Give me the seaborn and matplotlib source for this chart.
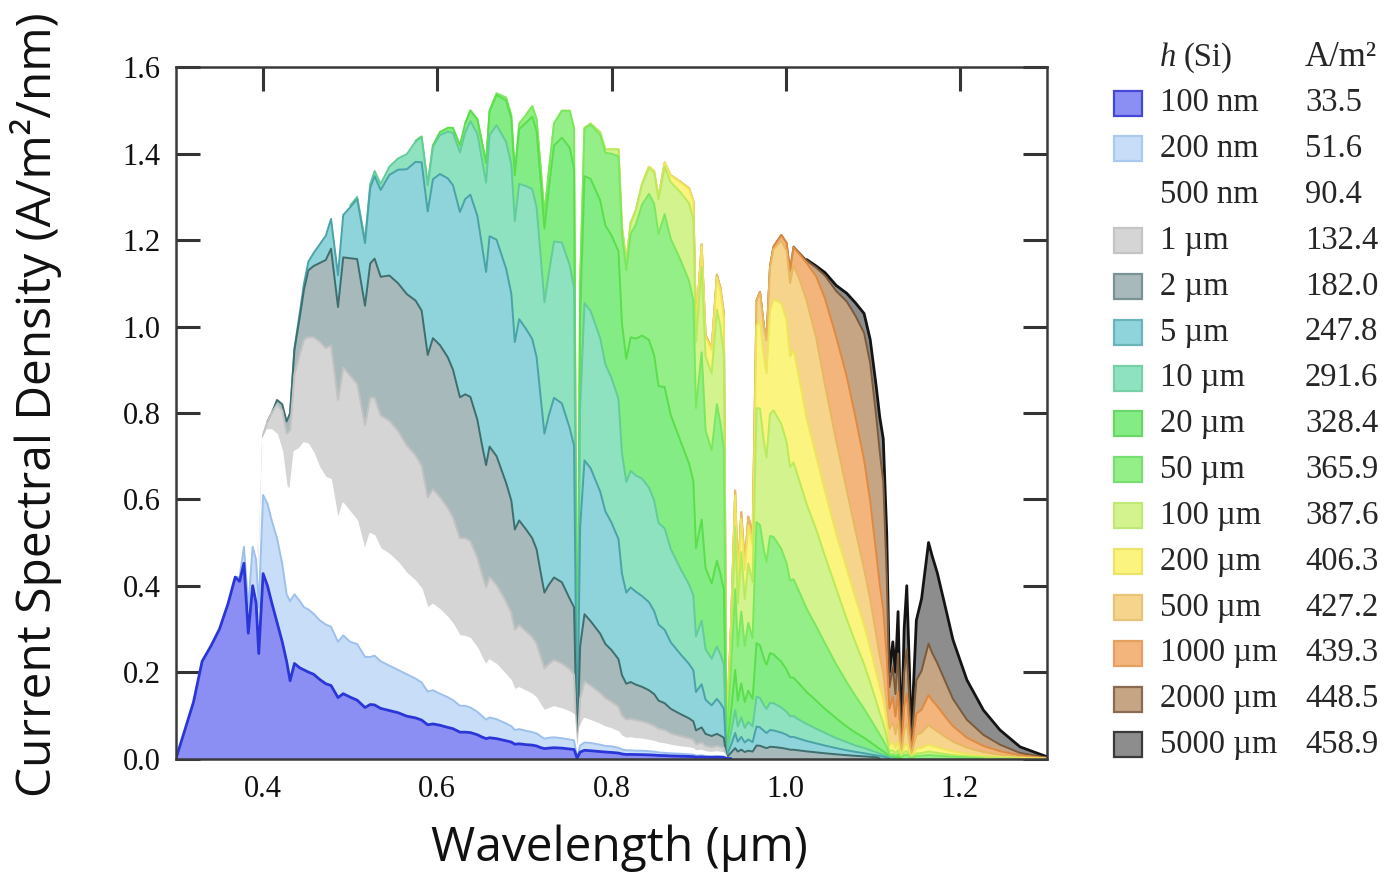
import matplotlib
matplotlib.use("Agg")
import matplotlib.pyplot as plt
from matplotlib.patches import Rectangle
import seaborn as sns

# ---------------- data ----------------
WAVELENGTH_UM = [
    0.300, 0.310, 0.320, 0.330, 0.340, 0.350, 0.360, 0.368, 0.373, 0.378,
    0.383, 0.388, 0.392, 0.395, 0.400, 0.405, 0.410, 0.416, 0.422, 0.427,
    0.431, 0.436, 0.442, 0.447, 0.452, 0.458, 0.465, 0.472, 0.478, 0.486,
    0.492, 0.500, 0.508, 0.517, 0.523, 0.528, 0.535, 0.545, 0.555, 0.565,
    0.575, 0.582, 0.589, 0.595, 0.603, 0.612, 0.618, 0.626, 0.632, 0.638,
    0.646, 0.651, 0.656, 0.660, 0.668, 0.679, 0.685, 0.689, 0.694, 0.702,
    0.709, 0.714, 0.719, 0.723, 0.728, 0.734, 0.743, 0.752, 0.757, 0.7605,
    0.764, 0.769, 0.776, 0.787, 0.793, 0.800, 0.808, 0.812, 0.817, 0.822,
    0.828, 0.835, 0.843, 0.849, 0.854, 0.861, 0.868, 0.879, 0.889, 0.894,
    0.897, 0.9035, 0.908, 0.915, 0.921, 0.925, 0.929, 0.932, 0.937, 0.942,
    0.945, 0.949, 0.953, 0.957, 0.962, 0.9665, 0.9705, 0.975, 0.978, 0.982,
    0.986, 0.995, 1.001, 1.005, 1.009, 1.016, 1.024, 1.035, 1.045, 1.058,
    1.070, 1.080, 1.090, 1.097, 1.104, 1.108, 1.112, 1.116, 1.119, 1.123,
    1.126, 1.129, 1.1325, 1.136, 1.139, 1.142, 1.144, 1.150, 1.156, 1.164,
    1.168, 1.174, 1.185, 1.192, 1.208, 1.227, 1.246, 1.269, 1.300,
]

THICKNESS_LABELS = ["100 nm", "200 nm", "500 nm", "1 µm", "2 µm", "5 µm", "10 µm",
                    "20 µm", "50 µm", "100 µm", "200 µm", "500 µm", "1000 µm",
                    "2000 µm", "5000 µm"]
CURRENT_TOTALS = ["33.5", "51.6", "90.4", "132.4", "182.0", "247.8", "291.6", "328.4",
                  "365.9", "387.6", "406.3", "427.2", "439.3", "448.5", "458.9"]

# index into WAVELENGTH_UM where each series' values begin
SERIES_START_INDEX = [0, 7, 9, 12, 15, 20, 31, 40, 48, 59, 70, 76, 86, 105, 116]

J_100NM = [
    0.0, .065, .13, .225, .26, .30, .36, .42, .41, .452,
    .29, .40, .36, .243, .428, .40, .36, .315, .27, .225,
    .18, .22, .21, .205, .20, .195, .183, .173, .169, .141,
    .15, .142, .135, .118, .125, .124, .116, .111, .106, .098,
    .094, .089, .078, .080, .077, .072, .069, .061, .061, .060,
    .055, .050, .046, .048, .046, .041, .038, .033, .034, .032,
    .031, .029, .025, .023, .024, .025, .024, .022, .021, .001,
    .015, .019, .018, .016, .015, .014, .0126, .0105, .0093, .0095,
    .0092, .0089, .0084, .0079, .0071, .0067, .006, .0053, .0048, .0044,
    .0033, .0037, .0029, .0026, .0029, .0027, .0025, .0001, 0.0,
]
J_200NM = [
    .42, .42, .49,
    .35, .49, .46, .35, .61, .59, .55, .51, .45, .38,
    .364, .38, .365, .35, .345, .335, .32, .31, .305, .27,
    .285, .27, .265, .235, .235, .238, .225, .215, .205, .195,
    .185, .176, .155, .158, .150, .142, .135, .122, .122, .118,
    .108, .099, .090, .095, .091, .081, .075, .066, .068, .064,
    .061, .058, .051, .046, .048, .049, .047, .044, .042, .002,
    .030, .037, .036, .032, .029, .028, .025, .021, .019, .019,
    .018, .018, .017, .016, .014, .013, .012, .011, .0096, .0089,
    .0067, .0074, .0059, .0053, .0059, .0054, .0049, .0002, 0.0,
]
J_500NM = [
    .50,
    .36, .52, .50, .40, .74, .76, .76, .75, .71, .63,
    .62, .71, .717, .73, .727, .707, .672, .65, .645, .55,
    .59, .57, .55, .48, .52, .515, .485, .472, .453, .428,
    .41, .392, .347, .356, .344, .326, .311, .283, .282, .277,
    .255, .234, .215, .227, .217, .193, .179, .158, .163, .155,
    .148, .139, .122, .110, .114, .119, .114, .107, .101, .0035,
    .072, .092, .087, .078, .072, .068, .061, .051, .046, .047,
    .045, .044, .041, .039, .035, .033, .030, .026, .024, .022,
    .017, .018, .0145, .013, .0147, .0135, .012, .0006, 0.0,
]
J_1UM = [
    .50, .40, .75, .78, .80, .82, .805, .752,
    .76, .89, .934, .97, .975, .975, .965, .95, .956, .83,
    .905, .886, .867, .772, .835, .835, .794, .782, .758, .725,
    .702, .678, .605, .623, .605, .58, .558, .51, .51, .503,
    .465, .429, .397, .42, .402, .363, .337, .298, .309, .294,
    .281, .266, .234, .209, .219, .228, .22, .207, .194, .007,
    .139, .178, .169, .152, .14, .131, .12, .10, .09, .092,
    .089, .086, .081, .076, .069, .066, .058, .052, .047, .043,
    .033, .037, .029, .026, .029, .027, .025, .001, 0.0,
]
J_2UM = [
    .78, .80, .83, .82, .78,
    .80, .946, 1.02, 1.086, 1.13, 1.14, 1.147, 1.154, 1.18, 1.045,
    1.16, 1.158, 1.156, 1.048, 1.146, 1.157, 1.115, 1.118, 1.10, 1.075,
    1.06, 1.037, .934, .973, .957, .929, .90, .836, .843, .837,
    .784, .729, .679, .722, .70, .638, .597, .53, .551, .53,
    .51, .484, .427, .384, .402, .419, .408, .37, .35, .012,
    .26, .334, .318, .289, .265, .251, .23, .193, .173, .177,
    .171, .166, .158, .149, .134, .128, .115, .103, .093, .086,
    .065, .072, .057, .052, .057, .053, .048, .0022, .013, .024,
    .016, .0205, .015, .018, .016, .030, .0295, .026, .024, .027,
    .0267, .0245, .0224, .0204, .0203, .0186, .0165, .0142, .0121, .0097,
    .0077, .0062, .0049, .0039, .0029, 0.0,
]
J_5UM = [
    .80, .95, 1.03, 1.10, 1.15, 1.17, 1.19, 1.21, 1.249, 1.119,
    1.258, 1.276, 1.295, 1.193, 1.321, 1.348, 1.316, 1.351, 1.363, 1.364,
    1.381, 1.38, 1.266, 1.341, 1.353, 1.343, 1.327, 1.265, 1.295, 1.305,
    1.256, 1.191, 1.126, 1.209, 1.201, 1.134, 1.076, .964, 1.017, .994,
    .971, .929, .83, .752, .794, .835, .822, .765, .724, .025,
    .536, .69, .672, .618, .572, .546, .508, .428, .384, .396,
    .386, .376, .362, .341, .31, .298, .269, .242, .219, .204,
    .154, .172, .136, .123, .138, .128, .115, .0054, .030, .059,
    .039, .05, .037, .044, .038, .074, .072, .064, .059, .066,
    .065, .06, .055, .05, .05, .0455, .0405, .035, .03, .024,
    .019, .0154, .0122, .0096, .0072, .0056, .0044, .0026, 0.0,
]
J_10UM = [
    1.28, 1.30, 1.20, 1.33, 1.36, 1.33, 1.37, 1.389, 1.399,
    1.428, 1.438, 1.327, 1.416, 1.443, 1.451, 1.448, 1.403, 1.449, 1.475,
    1.446, 1.39, 1.333, 1.443, 1.466, 1.427, 1.375, 1.244, 1.33, 1.325,
    1.318, 1.276, 1.155, 1.056, 1.123, 1.197, 1.194, 1.142, 1.089, .037,
    .81, 1.054, 1.036, .973, .912, .881, .832, .707, .64, .666,
    .655, .648, .627, .597, .545, .533, .485, .44, .403, .377,
    .283, .319, .253, .231, .259, .241, .218, .010, .058, .112,
    .074, .095, .071, .085, .074, .143, .14, .123, .115, .129,
    .128, .118, .108, .098, .098, .089, .080, .069, .0595, .047,
    .038, .030, .0244, .0192, .0142, .0112, .0087, .0052, .0017, .0019, 0.0,
]
J_20UM = [
    1.43, 1.44, 1.33, 1.42, 1.45, 1.46, 1.46, 1.42, 1.47, 1.50,
    1.479, 1.429, 1.378, 1.498, 1.536, 1.523, 1.481, 1.35, 1.457, 1.472,
    1.486, 1.452, 1.329, 1.227, 1.319, 1.419, 1.437, 1.414, 1.365, .047,
    1.024, 1.348, 1.342, 1.292, 1.234, 1.211, 1.174, 1.007, .925, .975,
    .972, .979, .969, .933, .862, .86, .795, .736, .683, .642,
    .487, .553, .441, .405, .458, .428, .39, .018, .104, .205,
    .134, .174, .131, .157, .138, .267, .262, .231, .217, .244,
    .241, .224, .206, .188, .187, .172, .154, .134, .115, .093,
    .074, .060, .048, .038, .028, .022, .017, .0103, .0033, .0039,
    .0025, .0037, 0.0,
]
J_50UM = [
    1.47, 1.50,
    1.48, 1.43, 1.38, 1.50, 1.54, 1.53, 1.49, 1.36, 1.47, 1.49,
    1.51, 1.48, 1.36, 1.26, 1.36, 1.47, 1.499, 1.499, 1.458, .05,
    1.099, 1.458, 1.467, 1.444, 1.402, 1.40, 1.394, 1.213, 1.13, 1.214,
    1.236, 1.282, 1.307, 1.284, 1.214, 1.26, 1.203, 1.155, 1.106, 1.059,
    .811, .94, .76, .713, .82, .777, .717, .034, .197, .392,
    .259, .34, .26, .314, .279, .547, .54, .482, .455, .515,
    .513, .485, .452, .412, .415, .384, .347, .306, .267, .218,
    .177, .145, .115, .092, .069, .055, .042, .026, .0084, .0097,
    .0064, .0099, .0009, .0073, .0089, .0043, .0009, .0059, .0064, .0081,
    .0074, .0066, .005, .004, .0026, 0.0,
]
J_100UM = [
    1.49,
    1.51, 1.48, 1.36, 1.26, 1.36, 1.47, 1.50, 1.50, 1.46, .05,
    1.10, 1.46, 1.47, 1.45, 1.41, 1.41, 1.41, 1.23, 1.15, 1.239,
    1.269, 1.328, 1.367, 1.356, 1.294, 1.37, 1.334, 1.311, 1.285, 1.249,
    .964, 1.138, .931, .891, 1.039, 1.001, .934, .045, .264, .536,
    .358, .478, .369, .451, .408, .811, .81, .733, .697, .797,
    .806, .774, .733, .675, .685, .641, .589, .53, .469, .393,
    .323, .269, .218, .176, .132, .105, .082, .050, .0162, .0192,
    .0127, .0196, .0019, .0144, .0177, .0087, .0017, .0117, .0126, .0162,
    .0147, .0132, .0099, .008, .0052, .0031, .0018, 0.0,
]
J_200UM = [
    1.10, 1.46, 1.47, 1.45, 1.41, 1.41, 1.41, 1.23, 1.15, 1.24,
    1.27, 1.33, 1.37, 1.36, 1.30, 1.38, 1.35, 1.334, 1.319, 1.289,
    .999, 1.188, .977, .946, 1.114, 1.083, 1.021, .049, .296, .609,
    .411, .555, .436, .539, .496, 1.002, 1.013, .928, .892, 1.037,
    1.063, 1.054, 1.015, .931, .946, .875, .787, .70, .62, .52,
    .44, .372, .309, .257, .199, .166, .136, .087, .031, .037,
    .0247, .038, .0036, .0281, .0347, .0171, .0034, .023, .025, .032,
    .029, .026, .0197, .016, .0103, .0062, .0036, .0015, 0.0,
]
J_500UM = [
    1.41, 1.23, 1.15, 1.24,
    1.27, 1.33, 1.37, 1.36, 1.30, 1.38, 1.35, 1.335, 1.32, 1.29,
    1.00, 1.19, .98, .95, 1.12, 1.09, 1.03, .05, .30, .62,
    .42, .57, .45, .56, .52, 1.059, 1.079, .999, .968, 1.137,
    1.179, 1.199, 1.175, 1.10, 1.142, 1.108, 1.06, .974, .866, .735,
    .622, .528, .439, .368, .284, .237, .198, .127, .069, .083,
    .056, .088, .0084, .066, .082, .040, .008, .055, .060, .078,
    .071, .063, .048, .039, .025, .015, .0089, .0037, 0.0,
]
J_1000UM = [
    1.35, 1.335, 1.32, 1.29,
    1.00, 1.19, .98, .95, 1.12, 1.09, 1.03, .05, .30, .62,
    .42, .57, .45, .56, .52, 1.06, 1.08, 1.00, .97, 1.14,
    1.185, 1.212, 1.193, 1.129, 1.183, 1.167, 1.147, 1.116, 1.065, .976,
    .885, .791, .691, .596, .474, .403, .344, .236, .115, .142,
    .097, .154, .015, .12, .15, .075, .015, .104, .113, .147,
    .135, .121, .092, .075, .048, .029, .017, .007, .001,
]
J_2000UM = [
    1.06, 1.08, 1.00, .97, 1.14,
    1.185, 1.212, 1.193, 1.13, 1.185, 1.17, 1.153, 1.136, 1.118, 1.082,
    1.058, 1.025, .985, .915, .79, .71, .64, .42, .165, .211,
    .149, .243, .024, .197, .252, .127, .0255, .181, .203, .266,
    .245, .221, .170, .138, .0897, .0547, .032, .013, .002,
]
J_5000UM = [
    1.155, 1.14, 1.125, 1.095,
    1.077, 1.055, 1.03, .97, .86, .79, .74, .52, .20, .27,
    .20, .34, .035, .30, .40, .21, .043, .32, .37, .50,
    .47, .43, .336, .275, .182, .112, .066, .027, .004,
]

FILL_COLORS = ["#8b8ff4", "#c8def8", "#ffffff", "#d5d5d5", "#a7b9bb", "#8ed4da",
               "#8ee2c0", "#84ec84", "#95ef88", "#d2f38e", "#fbf47e", "#f6d48c",
               "#f3b57c", "#c6a585", "#8d8d8d"]
LINE_COLORS = ["#2a36d8", "#9ec0ec", "#ffffff", "#c2c2c2", "#3f6e6e", "#49a3a8",
               "#62cc9a", "#5ade4c", "#79e85e", "#b9ea5c", "#eee55a", "#e8b860",
               "#e08a40", "#7d5a3a", "#141414"]
PATCH_EDGES = ["#4646d8", "#aac9ee", None, "#c4c4c4", "#7a9294", "#6ab5ba",
               "#78d0a8", "#6ad868", "#78e070", "#c0e878", "#ece46a", "#e8c478",
               "#e6a060", "#8a6a50", "#3a3a3a"]

SERIES = [J_100NM, J_200NM, J_500NM, J_1UM, J_2UM, J_5UM, J_10UM, J_20UM,
          J_50UM, J_100UM, J_200UM, J_500UM, J_1000UM, J_2000UM, J_5000UM]

X_TICKS = [0.4, 0.6, 0.8, 1.0, 1.2]
Y_TICKS = [0.0, 0.2, 0.4, 0.6, 0.8, 1.0, 1.2, 1.4, 1.6]

# ---------------- drawing ----------------
sns.set_style("ticks")
plt.rcParams["font.family"] = ["Liberation Serif", "DejaVu Serif"]

W, H = 1383, 875
fig = plt.figure(figsize=(W / 100, H / 100), dpi=100)
fig.patch.set_facecolor("white")
ax = fig.add_axes([176 / W, 1 - 758.5 / H, 871 / W, 691.2 / H])
ax.set_facecolor("white")

n = len(SERIES)
for i in reversed(range(n)):
    vals = SERIES[i]
    s = SERIES_START_INDEX[i]
    xs = WAVELENGTH_UM[s:s + len(vals)]
    z = 2 + 2 * (n - i)
    ax.fill_between(xs, 0, vals, color=FILL_COLORS[i], lw=0, zorder=z)
    sns.lineplot(x=xs, y=vals, color=LINE_COLORS[i],
                 lw=2.0 if i in (0, 14) else 1.4,
                 ax=ax, zorder=z + 1, sort=False, estimator=None, legend=False)

ax.set_xlim(0.3, 1.3)
ax.set_ylim(0.0, 1.6)
ax.set_xticks(X_TICKS)
ax.set_xticklabels([f"{v:.1f}" for v in X_TICKS])
ax.set_yticks(Y_TICKS)
ax.set_yticklabels([f"{v:.1f}" for v in Y_TICKS])
ax.tick_params(direction="in", length=17, width=2.2, top=True, right=True,
               color="#333333", labelsize=22, labelcolor="#111111")
ax.tick_params(axis="y", pad=11)
ax.tick_params(axis="x", pad=12)
for sp in ax.spines.values():
    sp.set_visible(True)
    sp.set_linewidth(1.8)
    sp.set_color("#3a3a3a")
    sp.set_zorder(60)

label_font = ["Open Sans", "DejaVu Sans"]
ax.set_xlabel("Wavelength (µm)", fontsize=34.5, family=label_font, color="#111111")
ax.xaxis.set_label_coords((619 - 176) / 871, -(848 - 758.5) / 691.2)
ax.xaxis.label.set_va("center")
ax.set_ylabel("Current Spectral Density (A/m²/nm)", fontsize=34.5, family=label_font,
              color="#111111")
ax.yaxis.set_label_coords((36 - 176) / 871, (758.5 - 405) / 691.2)
ax.yaxis.label.set_va("center")

# ---------------- table-style legend ----------------
leg_fs = 23.5
fig.text(1160 / W, 1 - 58 / H, "h", style="italic", fontsize=leg_fs, va="center", ha="left")
fig.text(1184 / W, 1 - 58 / H, "(Si)", fontsize=leg_fs, va="center", ha="left")
fig.text(1305 / W, 1 - 58 / H, "A/m²", fontsize=leg_fs + 1.5, va="center", ha="left")
for i, (lab, tot) in enumerate(zip(THICKNESS_LABELS, CURRENT_TOTALS)):
    yc = 103 + i * 45.85
    if PATCH_EDGES[i] is not None:
        fig.add_artist(Rectangle((1114 / W, 1 - (yc + 12.5) / H), 28 / W, 25 / H,
                                 transform=fig.transFigure, facecolor=FILL_COLORS[i],
                                 edgecolor=PATCH_EDGES[i], lw=1.6))
    fig.text(1160 / W, 1 - yc / H, lab, fontsize=leg_fs, va="center", ha="left")
    fig.text(1305 / W, 1 - yc / H, tot, fontsize=leg_fs, va="center", ha="left")

fig.savefig("out.png", dpi=100, facecolor="white")
